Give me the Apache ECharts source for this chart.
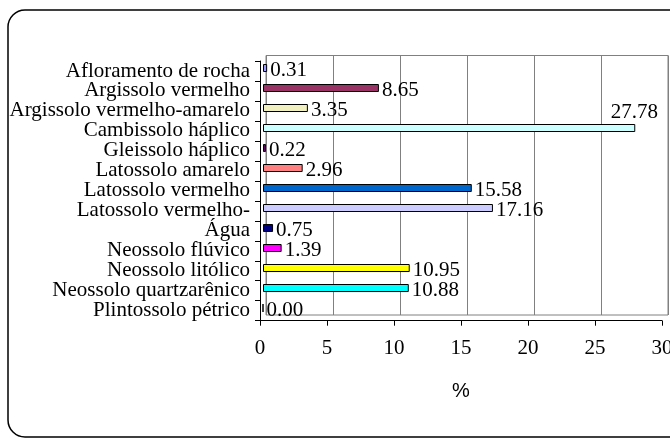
<!DOCTYPE html>
<html>
<head>
<meta charset="utf-8">
<script src="https://cdn.jsdelivr.net/npm/echarts@6/dist/echarts.min.js"></script>
<style>html,body{margin:0;padding:0;background:#fff}#c{width:670px;height:440px}</style>
</head>
<body>
<div id="c"></div>
<script>
var categories = ['Afloramento de rocha','Argissolo vermelho','Argissolo vermelho-amarelo','Cambissolo háplico','Gleissolo háplico','Latossolo amarelo','Latossolo vermelho','Latossolo vermelho-','Água','Neossolo flúvico','Neossolo litólico','Neossolo quartzarênico','Plintossolo pétrico'];
var values = [0.31, 8.65, 3.35, 27.78, 0.22, 2.96, 15.58, 17.16, 0.75, 1.39, 10.95, 10.88, 0.00];
var colors = ['#9999ff','#993366','#f0f0c0','#ccffff','#660066','#ff8080','#0066cc','#ccccff','#000080','#ff00ff','#ffff00','#00ffff','#000000'];
var xTicks = [0, 5, 10, 15, 20, 25, 30];

var serif = 'Liberation Serif';
var chart = echarts.init(document.getElementById('c'));
var data = values.map(function (v, i) {
  var d = { value: v, itemStyle: { color: colors[i] } };
  if (v > 25) {
    d.label = { position: ['100%', 0], align: 'center', verticalAlign: 'bottom', offset: [-1, -1] };
  }
  return d;
});
chart.setOption({
  backgroundColor: '#fff',
  animation: false,
  graphic: [{
    type: 'rect', silent: true, z: -10,
    shape: { x: 8, y: 10, width: 720, height: 427, r: 17 },
    style: { fill: 'none', stroke: '#000', lineWidth: 1.5 }
  }],
  grid: [
    { left: 260, right: 8, top: 61, bottom: 119.3, outerBoundsMode: 'none', containLabel: false },
    { left: 266, right: 2, top: 55.5, bottom: 125, outerBoundsMode: 'none', containLabel: false, show: true, borderColor: '#808080', borderWidth: 1, backgroundColor: 'transparent' },
    { left: 263, right: 5, top: 58, bottom: 122, outerBoundsMode: 'none', containLabel: false }
  ],
  xAxis: [
    { gridIndex: 0, type: 'value', min: xTicks[0], max: xTicks[xTicks.length - 1], interval: 5,
      axisLine: { show: true, lineStyle: { color: '#000', width: 1 } },
      axisTick: { show: true, length: 5, lineStyle: { color: '#000' } },
      splitLine: { show: false },
      axisLabel: { fontFamily: serif, fontSize: 21, color: '#000', margin: 17,
        formatter: function (v) { return xTicks.indexOf(v) >= 0 ? String(v) : ''; } },
      name: '%', nameLocation: 'middle', nameGap: 61,
      nameTextStyle: { fontFamily: 'Liberation Sans', fontSize: 20, color: '#000' } },
    { gridIndex: 1, type: 'value', min: 0, max: 30, interval: 5,
      axisLine: { show: false }, axisTick: { show: false }, axisLabel: { show: false },
      splitLine: { show: true, lineStyle: { color: '#808080', width: 1 } } },
    { gridIndex: 2, type: 'value', min: 0, max: 30, interval: 5, show: false }
  ],
  yAxis: [
    { gridIndex: 0, type: 'category', data: categories, inverse: true,
      axisLine: { show: true, lineStyle: { color: '#000', width: 1 } },
      axisTick: { show: true, length: 5, alignWithLabel: false, lineStyle: { color: '#000' } },
      axisLabel: { interval: 0, fontFamily: serif, fontSize: 21, color: '#000', margin: 10 } },
    { gridIndex: 1, type: 'category', data: categories, inverse: true, show: false },
    { gridIndex: 2, type: 'category', data: categories, inverse: true, show: false }
  ],
  series: [{
    type: 'bar', xAxisIndex: 2, yAxisIndex: 2,
    barWidth: 8,
    data: data,
    itemStyle: { borderColor: '#000', borderWidth: 1 },
    label: { show: true, position: 'right', distance: 3, offset: [0, 2],
      fontFamily: serif, fontSize: 21, color: '#000',
      formatter: function (p) { return p.value.toFixed(2); } }
  }]
});
</script>
</body>
</html>
